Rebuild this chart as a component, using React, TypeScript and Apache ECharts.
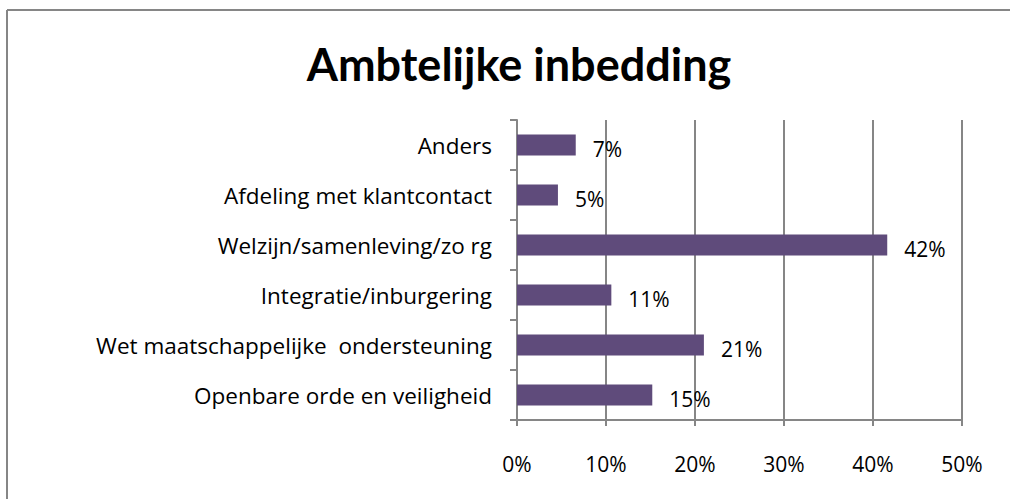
import React, { useEffect, useRef } from "react";
import * as echarts from "echarts";

const categories = [
  "Openbare orde en veiligheid",
  "Wet maatschappelijke  ondersteuning",
  "Integratie/inburgering",
  "Welzijn/samenleving/zo rg",
  "Afdeling met klantcontact",
  "Anders",
];
const values = [15.2, 21.0, 10.6, 41.6, 4.6, 6.6];
const valueLabels = ["15%", "21%", "11%", "42%", "5%", "7%"];
const xTicks = [0, 10, 20, 30, 40, 50];

const FONT = "Open Sans";
const GRAY = "#868686";

export default function App() {
  const ref = useRef<HTMLDivElement>(null);
  useEffect(() => {
    const chart = echarts.init(ref.current!, null, { renderer: "svg" });
    chart.setOption({
      animation: false,
      backgroundColor: "#ffffff",
      title: {
        text: "Ambtelijke inbedding",
        left: 514,
        top: 36,
        textAlign: "center",
        textStyle: { fontFamily: "Lato", fontWeight: "bold", fontSize: 45, color: "#000" },
      },
      graphic: [
        { type: "line", shape: { x1: 7, y1: 10, x2: 1010, y2: 10 }, style: { stroke: GRAY, lineWidth: 2 } },
        { type: "line", shape: { x1: 7, y1: 10, x2: 7, y2: 499 }, style: { stroke: GRAY, lineWidth: 2 } },
      ],
      grid: { left: 517, right: 48, top: 120, bottom: 79, containLabel: false },
      xAxis: {
        type: "value",
        min: 0,
        max: 50,
        interval: 10,
        axisLine: { show: true, lineStyle: { color: GRAY, width: 2 } },
        axisTick: { show: true, length: 6, lineStyle: { color: GRAY, width: 2 } },
        splitLine: { show: true, lineStyle: { color: GRAY, width: 2 } },
        axisLabel: {
          margin: 33,
          fontFamily: FONT,
          fontSize: 21,
          color: "#000",
          formatter: (v: number) => (xTicks.includes(v) ? v + "%" : ""),
        },
      },
      yAxis: {
        type: "category",
        data: categories,
        axisLine: { show: true, lineStyle: { color: GRAY, width: 2 } },
        axisTick: { show: true, length: 7, lineStyle: { color: GRAY, width: 2 } },
        axisLabel: { margin: 25, fontFamily: FONT, fontSize: 22.5, color: "#000" },
      },
      series: [
        {
          type: "bar",
          data: values,
          barWidth: 21,
          itemStyle: { color: "#5F4B7B" },
          label: {
            show: true,
            position: "right",
            distance: 17,
            offset: [0, 4],
            fontFamily: FONT,
            fontSize: 21,
            color: "#000",
            formatter: (p: any) => valueLabels[p.dataIndex],
          },
        },
      ],
    });
    return () => chart.dispose();
  }, []);
  return (
    <div
      ref={ref}
      style={{ position: "fixed", left: 0, top: 0, width: 1010, height: 499, background: "#fff" }}
    />
  );
}
